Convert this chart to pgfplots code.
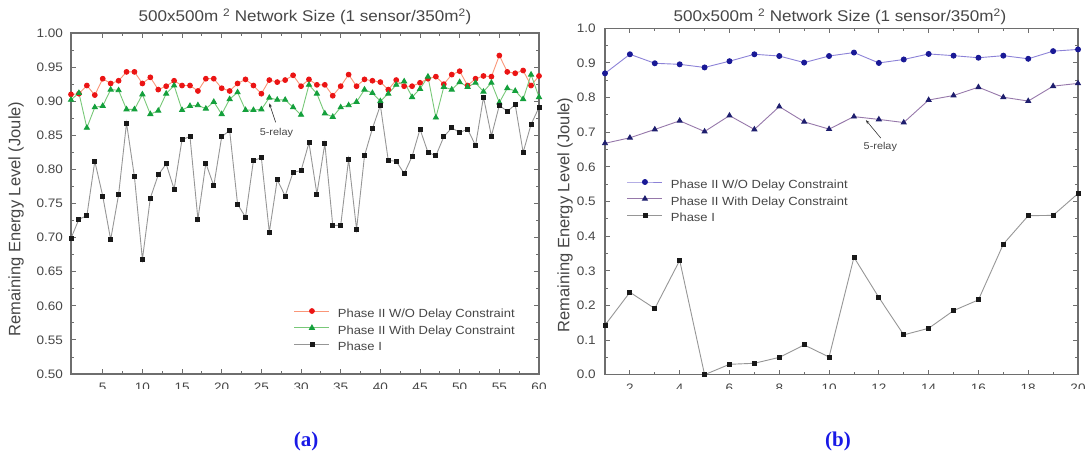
\documentclass[border=0pt]{standalone}
\usepackage{fontspec}
\setmainfont{Liberation Sans}
\newfontfamily\wf{Liberation Sans}[FakeStretch=1.1]
\newfontfamily\capfont{Liberation Serif}
\usepackage{pgfplots}
\usepackage{pgfplotstable}
\pgfplotsset{compat=1.18}
\usetikzlibrary{arrows.meta}

\definecolor{axisgray}{RGB}{110,110,110}
\definecolor{labelgray}{RGB}{70,70,70}
\definecolor{redline}{RGB}{250,150,120}
\definecolor{redmark}{RGB}{235,20,20}
\definecolor{greenline}{RGB}{120,200,120}
\definecolor{greenmark}{RGB}{20,160,60}
\definecolor{blackline}{RGB}{150,150,150}
\definecolor{blackmark}{RGB}{25,25,25}
\definecolor{blueline}{RGB}{140,130,215}
\definecolor{bluemark}{RGB}{25,25,150}
\definecolor{triline}{RGB}{150,120,170}
\definecolor{trimark}{RGB}{30,30,110}
\definecolor{capblue}{RGB}{25,25,230}

% 60-node run (a)
\pgfplotstableread{
x red green black
1 0.910 0.902 0.699
2 0.911 0.912 0.727
3 0.923 0.861 0.732
4 0.909 0.891 0.812
5 0.933 0.893 0.761
6 0.926 0.917 0.697
7 0.930 0.916 0.763
8 0.943 0.888 0.868
9 0.943 0.888 0.789
10 0.926 0.910 0.668
11 0.935 0.881 0.758
12 0.917 0.886 0.792
13 0.922 0.911 0.808
14 0.930 0.923 0.771
15 0.923 0.887 0.844
16 0.923 0.893 0.848
17 0.915 0.894 0.727
18 0.933 0.889 0.809
19 0.933 0.899 0.776
20 0.919 0.881 0.848
21 0.915 0.903 0.857
22 0.926 0.913 0.749
23 0.932 0.887 0.730
24 0.923 0.887 0.813
25 0.911 0.888 0.817
26 0.931 0.905 0.708
27 0.928 0.902 0.785
28 0.931 0.902 0.761
29 0.938 0.891 0.796
30 0.922 0.880 0.798
31 0.932 0.924 0.839
32 0.924 0.911 0.764
33 0.924 0.882 0.838
34 0.908 0.877 0.718
35 0.922 0.891 0.718
36 0.939 0.894 0.815
37 0.922 0.899 0.712
38 0.932 0.917 0.820
39 0.930 0.912 0.860
40 0.928 0.900 0.894
41 0.917 0.911 0.813
42 0.931 0.924 0.812
43 0.922 0.929 0.794
44 0.922 0.906 0.819
45 0.927 0.918 0.859
46 0.933 0.936 0.825
47 0.936 0.876 0.820
48 0.925 0.921 0.848
49 0.939 0.917 0.861
50 0.944 0.928 0.854
51 0.923 0.921 0.859
52 0.933 0.927 0.835
53 0.937 0.914 0.906
54 0.936 0.927 0.849
55 0.967 0.898 0.894
56 0.943 0.919 0.885
57 0.941 0.915 0.895
58 0.945 0.903 0.825
59 0.923 0.939 0.866
60 0.937 0.906 0.891
}\runA

% 20-node run (b)
\pgfplotstableread{
x wo with phase
1 0.870 0.668 0.143
2 0.925 0.684 0.238
3 0.899 0.708 0.191
4 0.896 0.733 0.330
5 0.887 0.702 0.000
6 0.905 0.748 0.030
7 0.925 0.708 0.033
8 0.920 0.774 0.050
9 0.901 0.730 0.086
10 0.920 0.709 0.051
11 0.930 0.745 0.339
12 0.900 0.737 0.223
13 0.910 0.728 0.115
14 0.926 0.793 0.134
15 0.921 0.806 0.185
16 0.915 0.830 0.216
17 0.921 0.801 0.377
18 0.912 0.790 0.459
19 0.934 0.833 0.460
20 0.939 0.841 0.523
}\runB

\pgfplotsset{
  energy/.style={
    scale only axis, clip=false,
    axis line style={draw=axisgray, line width=1.1pt},
    every tick/.style={draw=axisgray, line width=0.9pt},
    tick align=inside,
    major tick length=5pt, minor tick length=3pt,
    minor x tick num=1, minor y tick num=1,
    tick label style={font=\wf\fontsize{12.3}{13}\selectfont, text=labelgray},
    /pgf/number format/assume math mode=true,
    legend cell align=left,
    legend style={draw=none, fill=none, inner sep=0pt, outer sep=0pt,
      font=\wf\fontsize{11.8}{12}\selectfont, text=labelgray,
      row sep=4.5pt, column sep=8pt,
      nodes={inner sep=0pt, text height=9pt, text depth=3pt}},
    legend image code/.code={
      \draw[mark repeat=2, mark phase=2, #1]
        plot coordinates {(0pt,3.5pt) (17.5pt,3.5pt) (35pt,3.5pt)};
    },
  },
}

\begin{document}
\begin{tikzpicture}
\useasboundingbox (0pt,0pt) rectangle (1086pt,459pt);

% ---- (a) ----
\begin{axis}[energy,
  at={(71pt,85pt)}, anchor=south west,
  width=468pt, height=341pt,
  xmin=1, xmax=60, ymin=0.5, ymax=1.0,
  xtick={5,10,...,60},
  ytick={0.50,0.55,0.60,0.65,0.70,0.75,0.80,0.85,0.90,0.95,1.00},
  y tick label style={/pgf/number format/fixed,
    /pgf/number format/fixed zerofill,
    /pgf/number format/precision=2, xshift=-4.5pt},
  x tick label style={yshift=-5pt},
  legend style={at={(0.4765,0.192)}, anchor=north west},
]
\addplot[redline, line width=0.9pt, mark=*, mark size=2.4pt,
  mark options={draw=redmark, fill=redmark}] table[x=x, y=red] {\runA};
\addlegendentry{Phase II W/O Delay Constraint}
\addplot[greenline, line width=0.9pt, mark=triangle*, mark size=2.9pt,
  mark options={draw=greenmark, fill=greenmark}] table[x=x, y=green] {\runA};
\addlegendentry{Phase II With Delay Constraint}
\addplot[blackline, line width=0.9pt, mark=square*, mark size=2pt,
  mark options={draw=blackmark, fill=blackmark}] table[x=x, y=black] {\runA};
\addlegendentry{Phase I}
\node[font=\wf\fontsize{9.9}{10}\selectfont, text=labelgray]
  at (axis cs:26.9,0.853) {5-relay};
\draw[-{Stealth[length=4pt,width=3pt]}, line width=0.6pt, black!80]
  (axis cs:26.8,0.869) -- (axis cs:26.0,0.897);
\end{axis}

% ---- (b) ----
\begin{axis}[energy,
  at={(605pt,84.3pt)}, anchor=south west,
  width=473pt, height=346.4pt,
  xmin=1, xmax=20, ymin=0, ymax=1.0,
  xtick={2,4,...,20},
  ytick={0,0.1,0.2,0.3,0.4,0.5,0.6,0.7,0.8,0.9,1.0},
  y tick label style={/pgf/number format/fixed,
    /pgf/number format/fixed zerofill,
    /pgf/number format/precision=1, xshift=-5.9pt},
  x tick label style={yshift=-6pt},
  legend style={at={(0.0465,0.5635)}, anchor=north west},
]
\addplot[blueline, line width=0.9pt, mark=*, mark size=2.5pt,
  mark options={draw=bluemark, fill=bluemark}] table[x=x, y=wo] {\runB};
\addlegendentry{Phase II W/O Delay Constraint}
\addplot[triline, line width=0.9pt, mark=triangle*, mark size=2.8pt,
  mark options={draw=trimark, fill=trimark}] table[x=x, y=with] {\runB};
\addlegendentry{Phase II With Delay Constraint}
\addplot[blackline, line width=0.9pt, mark=square*, mark size=2pt,
  mark options={draw=blackmark, fill=blackmark}] table[x=x, y=phase] {\runB};
\addlegendentry{Phase I}
\node[font=\wf\fontsize{9.9}{10}\selectfont, text=labelgray]
  at (axis cs:12.06,0.657) {5-relay};
\draw[-{Stealth[length=4pt,width=3pt]}, line width=0.6pt, black!80]
  (axis cs:12.08,0.683) -- (axis cs:11.48,0.735);
\end{axis}

% the source figure is cropped through the x tick labels
\fill[white] (55pt,45pt) rectangle (1086pt,70.5pt);

% titles, axis labels, panel captions
\node[anchor=base, font=\wf\fontsize{15.5}{16}\selectfont, text=labelgray]
  at (305pt,437pt) {500x500m \textsuperscript{2} Network Size (1 sensor/350m\textsuperscript{2})};
\node[anchor=base, font=\wf\fontsize{15.5}{16}\selectfont, text=labelgray]
  at (840pt,437pt) {500x500m \textsuperscript{2} Network Size (1 sensor/350m\textsuperscript{2})};
\node[rotate=90, font=\fontsize{16.5}{17}\selectfont, text=labelgray]
  at (16pt,240pt) {Remaining Energy Level (Joule)};
\node[rotate=90, font=\fontsize{16.5}{17}\selectfont, text=labelgray]
  at (565pt,244pt) {Remaining Energy Level (Joule)};
\node[font=\capfont\bfseries\fontsize{21}{21}\selectfont, text=capblue]
  at (306pt,18pt) {(a)};
\node[font=\capfont\bfseries\fontsize{21}{21}\selectfont, text=capblue]
  at (838pt,18pt) {(b)};
\end{tikzpicture}
\end{document}
